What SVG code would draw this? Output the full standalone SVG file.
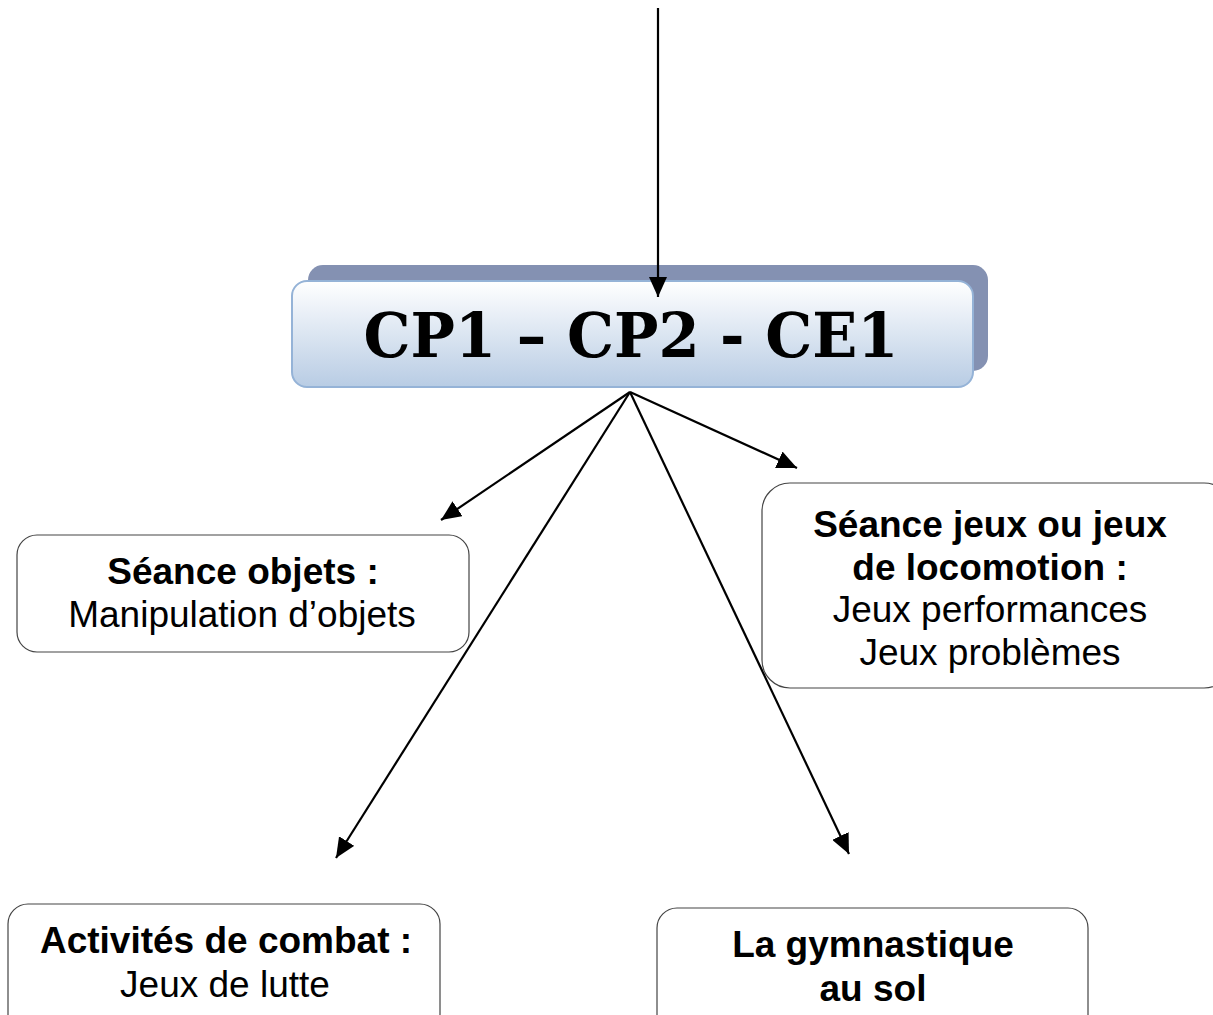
<svg xmlns="http://www.w3.org/2000/svg" width="1213" height="1015" viewBox="0 0 1213 1015">
<defs>
<linearGradient id="g" x1="0" y1="0" x2="0" y2="1">
<stop offset="0" stop-color="#ffffff"/>
<stop offset="1" stop-color="#b8cce4"/>
</linearGradient>
<marker id="ah" markerUnits="userSpaceOnUse" markerWidth="22" markerHeight="18" viewBox="0 0 22 18" refX="20" refY="9" orient="auto">
<path d="M0,0 L20,9 L0,18 Z" fill="#000"/>
</marker>
<style>
.box{fill:#fff;stroke:#444;stroke-width:1.2}
.b{font-family:"Liberation Sans",Arial,sans-serif;font-weight:bold;font-size:37px;text-anchor:middle;fill:#000}
.r{font-family:"Liberation Sans",Arial,sans-serif;font-size:37px;text-anchor:middle;fill:#000}
.c{stroke:#000;stroke-width:2.2;fill:none;marker-end:url(#ah)}
</style>
</defs>
<rect width="1213" height="1015" fill="#fff"/>
<g id="title">
<rect x="308" y="265" width="680" height="106" rx="15" fill="#8491b2"/>
<rect x="292" y="281" width="681" height="106" rx="15" fill="url(#g)" stroke="#95b3d7" stroke-width="2"/>
<text x="631" y="357" font-family="'DejaVu Serif',serif" font-weight="bold" font-size="61" text-anchor="middle" textLength="535" lengthAdjust="spacingAndGlyphs">CP1 – CP2 - CE1</text>
</g>
<g id="objets">
<rect class="box" x="17" y="535" width="452" height="117" rx="20"/>
<text class="b" x="243" y="584">Séance objets :</text>
<text class="r" x="242" y="627">Manipulation d’objets</text>
</g>
<g id="jeux">
<rect class="box" x="762" y="483" width="470" height="205" rx="28"/>
<text class="b" x="990" y="537">Séance jeux ou jeux</text>
<text class="b" x="990" y="580">de locomotion :</text>
<text class="r" x="990" y="622">Jeux performances</text>
<text class="r" x="990" y="665">Jeux problèmes</text>
</g>
<g id="combat">
<rect class="box" x="8" y="904" width="432" height="130" rx="20"/>
<text class="b" x="226" y="953">Activités de combat :</text>
<text class="r" x="225" y="997">Jeux de lutte</text>
</g>
<g id="gym">
<rect class="box" x="657" y="908" width="431" height="130" rx="20"/>
<text class="b" x="873" y="957">La gymnastique</text>
<text class="b" x="873" y="1001">au sol</text>
</g>
<g id="connectors">
<line class="c" x1="658" y1="8" x2="658" y2="297"/>
<line class="c" x1="630" y1="392" x2="441" y2="520"/>
<line class="c" x1="630" y1="392" x2="336" y2="858"/>
<line class="c" x1="630" y1="392" x2="849" y2="854"/>
<line class="c" x1="630" y1="392" x2="797" y2="468"/>
</g>
</svg>
